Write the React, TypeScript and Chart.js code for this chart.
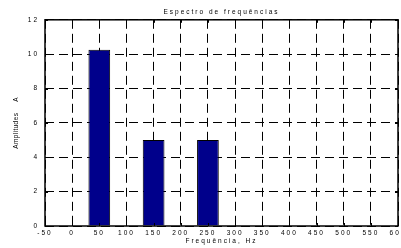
import React, { useEffect, useRef } from "react";
import { Chart, registerables } from "chart.js";

Chart.register(...registerables);

const frequencies = [50, 150, 250];
const amplitudes = [10.25, 5, 5];
const chartTitle = "Espectro de frequências";
const xAxisTitle = "Frequência, Hz";
const yAxisTitle = "Amplitudes     A";
const xMin = -50;
const xMax = 600;
const xStep = 50;
const yMin = 0;
const yMax = 12;
const yStep = 2;

const FONT = "'Liberation Sans', Arial, sans-serif";

const framePlugin = {
  id: "frame",
  beforeDraw(chart: any) {
    (chart.ctx as any).letterSpacing = "2px";
  },
  afterDatasetsDraw(chart: any) {
    const { ctx, chartArea } = chart;
    const { left, right, top, bottom } = chartArea;
    ctx.save();
    ctx.strokeStyle = "#000";
    ctx.lineWidth = 1;
    const xs = chart.scales.x;
    const ys = chart.scales.y;
    const tl = 3;
    ctx.beginPath();
    xs.ticks.forEach((t: any) => {
      const px = Math.round(xs.getPixelForValue(t.value)) + 0.5;
      ctx.moveTo(px, bottom);
      ctx.lineTo(px, bottom - tl);
      ctx.moveTo(px, top);
      ctx.lineTo(px, top + tl);
    });
    ys.ticks.forEach((t: any) => {
      const py = Math.round(ys.getPixelForValue(t.value)) + 0.5;
      ctx.moveTo(left, py);
      ctx.lineTo(left + tl, py);
      ctx.moveTo(right, py);
      ctx.lineTo(right - tl, py);
    });
    ctx.stroke();
    ctx.lineWidth = 1.5;
    ctx.strokeRect(left, top, right - left, bottom - top);
    ctx.restore();
  },
  afterDraw(chart: any) {
    const { ctx, chartArea } = chart;
    ctx.save();
    (ctx as any).letterSpacing = "0.4px";
    ctx.fillStyle = "#000";
    ctx.font = `6.5px ${FONT}`;
    ctx.textAlign = "center";
    ctx.textBaseline = "middle";
    ctx.translate(16, (chartArea.top + chartArea.bottom) / 2);
    ctx.rotate(-Math.PI / 2);
    ctx.fillText(yAxisTitle, 0, 0);
    ctx.restore();
  },
};

export default function App() {
  const ref = useRef<HTMLCanvasElement | null>(null);

  useEffect(() => {
    if (!ref.current) return;
    const chart = new Chart(ref.current, {
      type: "bar",
      data: {
        datasets: [
          {
            data: frequencies.map((f, i) => ({ x: f, y: amplitudes[i] })),
            backgroundColor: "#00008B",
            borderColor: "#000",
            borderWidth: 1,
            barPercentage: 0.8,
            categoryPercentage: 1,
          },
        ],
      },
      options: {
        animation: false,
        responsive: false,
        maintainAspectRatio: false,
        layout: { padding: { left: 0, right: 3, top: 0, bottom: 0 } },
        plugins: {
          legend: { display: false },
          tooltip: { enabled: false },
          title: {
            display: true,
            fullSize: false,
            text: chartTitle,
            color: "#000",
            font: { family: FONT, size: 6.5, weight: "normal" },
            padding: { top: 8, bottom: 4 },
          },
        },
        scales: {
          x: {
            type: "linear",
            min: xMin,
            max: xMax,
            offset: false,
            ticks: {
              stepSize: xStep,
              color: "#000",
              font: { family: FONT, size: 6.5 },
              padding: 3,
              maxRotation: 0,
              autoSkip: false,
            },
            grid: {
              color: "#000",
              lineWidth: 1,
              drawTicks: false,
              offset: false,
            },
            border: { display: false, dash: [9, 5] },
            title: {
              display: true,
              text: xAxisTitle,
              color: "#000",
              font: { family: FONT, size: 6.5 },
              padding: { top: 0, bottom: 2.5 },
            },
            afterFit(scale: any) {
              scale.height = 22;
              scale.paddingLeft = 0;
              scale.paddingRight = 0;
            },
          },
          y: {
            min: yMin,
            max: yMax,
            ticks: {
              stepSize: yStep,
              color: "#000",
              font: { family: FONT, size: 6.5 },
              padding: 6,
            },
            grid: {
              color: "#000",
              lineWidth: 1,
              drawTicks: false,
            },
            border: { display: false, dash: [9, 5] },
            title: { display: false },
            afterFit(scale: any) {
              scale.width = 45;
              scale.paddingTop = 0;
              scale.paddingBottom = 0;
            },
          },
        },
      } as any,
      plugins: [framePlugin],
    });
    return () => chart.destroy();
  }, []);

  return (
    <div style={{ position: "fixed", left: 0, top: 0, width: 401, height: 248, background: "#fff" }}>
      <canvas ref={ref} width={401} height={248} style={{ width: 401, height: 248 }} />
    </div>
  );
}
